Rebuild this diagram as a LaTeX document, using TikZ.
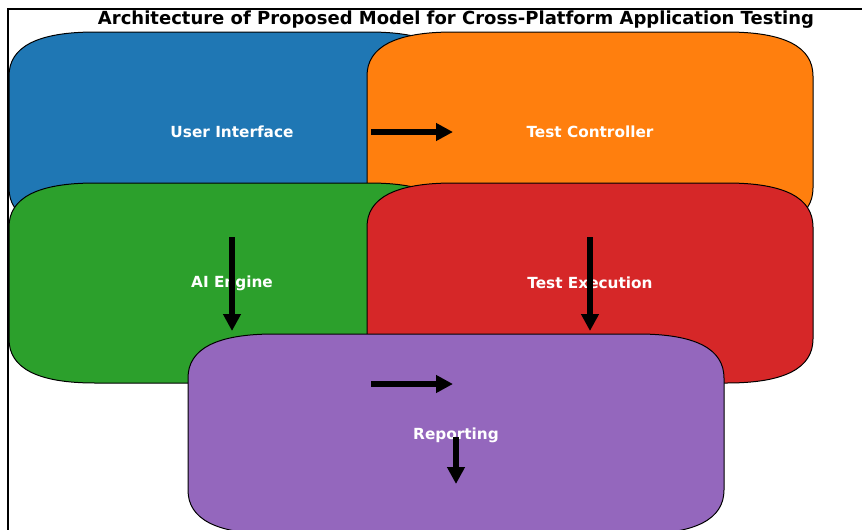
\documentclass[tikz,border=0pt]{standalone}
\usepackage{fontspec}
\setmainfont{DejaVu Sans}
\usetikzlibrary{arrows.meta,positioning}

\definecolor{uiblue}{HTML}{1F77B4}
\definecolor{ctrlorange}{HTML}{FF7F0E}
\definecolor{aigreen}{HTML}{2CA02C}
\definecolor{execred}{HTML}{D62728}
\definecolor{reportpurple}{HTML}{9467BD}

\begin{document}
\begin{tikzpicture}[x=1pt,y=-1pt]
		\tikzstyle{block}=[draw=black,line width=1pt,line join=round]
		\tikzstyle{blocktext}=[text=white,inner sep=0pt,font=\bfseries\fontsize{15.3}{18}\selectfont]
		\tikzstyle{flow}=[line width=5.5pt,-{Triangle[length=17pt,width=17pt]}]
		\def\rx{86}\def\ry{44}
		\def\qx{28.7}\def\qy{14.7}
		% rounded box: x0, y0, x1, y1, colour
		\def\roundblock#1#2#3#4#5{%
			\draw[block,fill=#5] ({#1+\rx},#2) -- ({#3-\rx},#2)
				.. controls ({#3-\qx},#2) and (#3,{#2+\qy}) .. (#3,{#2+\ry})
				-- (#3,{#4-\ry})
				.. controls (#3,{#4-\qy}) and ({#3-\qx},#4) .. ({#3-\rx},#4)
				-- ({#1+\rx},#4)
				.. controls ({#1+\qx},#4) and (#1,{#4-\qy}) .. (#1,{#4-\ry})
				-- (#1,{#2+\ry})
				.. controls (#1,{#2+\qy}) and ({#1+\qx},#2) .. cycle;}

		\useasboundingbox (0,0) rectangle (862,530);
		\clip (0,0) rectangle (862,530);

		%title
		\node[anchor=base,font=\bfseries\fontsize{18}{22}\selectfont] (title) at (456,24) {Architecture of Proposed Model for Cross-Platform Application Testing};

		%blocks
		\roundblock{9}{32}{455}{232}{uiblue}
		\node[blocktext] (ui) at (232,132) {User Interface};
		\roundblock{367}{32}{813}{232}{ctrlorange}
		\node[blocktext] (ctrl) at (590,132) {Test Controller};
		\roundblock{9}{183}{455}{383}{aigreen}
		\node[blocktext] (ai) at (232,283) {AI Engine};
		\roundblock{367}{183}{813}{383}{execred}
		\node[blocktext] (exec) at (590,283) {Test Execution};
		\roundblock{188}{334}{724}{534}{reportpurple}
		\node[blocktext] (report) at (456,435) {Reporting};

		%arrow ends
		\coordinate (ui-out) at (371,132);
		\coordinate (ctrl-in) at (453,132);
		\coordinate (ai-out) at (232,237);
		\coordinate (ai-in) at (232,331);
		\coordinate (exec-out) at (590,237);
		\coordinate (exec-in) at (590,331);
		\coordinate (report-from) at (371,384);
		\coordinate (report-to) at (453,384);
		\coordinate (report-out) at (456,437);
		\coordinate (report-end) at (456,484);

		%arrows
		\draw[flow] (ui-out) -- (ctrl-in);
		\draw[flow] (ai-out) -- (ai-in);
		\draw[flow] (exec-out) -- (exec-in);
		\draw[flow] (report-from) -- (report-to);
		\draw[flow] (report-out) -- (report-end);

		%frame
		\draw[line width=1.1pt] (8,530) -- (8,9) -- (862,9);
\end{tikzpicture}
\end{document}
